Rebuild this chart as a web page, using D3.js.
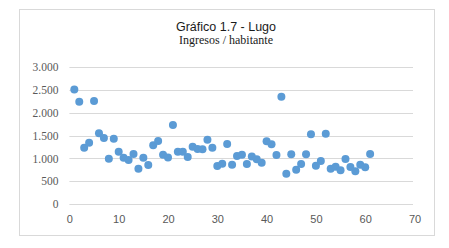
<!DOCTYPE html>
<html>
<head>
<meta charset="utf-8">
<script src="https://cdn.jsdelivr.net/npm/d3@7"></script>
<style>
	body { margin: 0; background: #fff; }
	.grid line { stroke: #d9d9d9; }
</style>
</head>
<body>
<script>
// Municipality index (x) and income per inhabitant (y)
const municipios = [
	1, 2, 3, 4, 5, 6, 7, 8, 9, 10, 11, 12, 13, 14, 15, 16, 17, 18, 19, 20,
	21, 22, 23, 24, 25, 26, 27, 28, 29, 30, 31, 32, 33, 34, 35, 36, 37, 38, 39, 40,
	41, 42, 43, 44, 45, 46, 47, 48, 49, 50, 51, 52, 53, 54, 55, 56, 57, 58, 59, 60, 61
];
const ingresos = [
	2515, 2245, 1235, 1345, 2260, 1555, 1447, 995, 1432, 1147, 1015, 965, 1096, 775, 1015, 855, 1290, 1382, 1082, 1023,
	1732, 1147, 1147, 1031, 1257, 1206, 1199, 1411, 1235, 833, 885, 1316, 863, 1053, 1082, 877, 1045, 980, 906, 1375,
	1309, 1075, 2353, 665, 1090, 752, 877, 1090, 1528, 840, 943, 1542, 775, 818, 738, 987, 811, 716, 863, 804, 1096
];
const yTicks = [0, 500, 1000, 1500, 2000, 2500, 3000];
const xTicks = [0, 10, 20, 30, 40, 50, 60, 70];

const width = 449;
const height = 248;

const svg = d3.select('body').append('svg').attr('width', width).attr('height', height);

// chart border
svg.append('rect')
	.attr('x', 19.5).attr('y', 9.5)
	.attr('width', 415).attr('height', 226)
	.attr('fill', '#fff')
	.attr('stroke', '#d9d9d9');

svg.append('text')
	.attr('x', 226).attr('y', 31)
	.attr('text-anchor', 'middle')
	.style('font-family', 'Liberation Sans, Arial, sans-serif')
	.style('font-size', '12.5px')
	.style('fill', '#1a1a1a')
	.text('Gráfico 1.7 - Lugo');

svg.append('text')
	.attr('x', 226).attr('y', 44)
	.attr('text-anchor', 'middle')
	.style('font-family', 'Liberation Serif, Times New Roman, serif')
	.style('font-size', '12px')
	.style('fill', '#1a1a1a')
	.text('Ingresos / habitante');

const x = d3.scaleLinear().domain([0, 70]).range([69.4, 414.5]);
const y = d3.scaleLinear().domain([0, 3000]).range([204, 67.3]);

// horizontal gridlines
svg.append('g')
	.attr('class', 'grid')
	.selectAll('line')
	.data(yTicks)
	.enter()
	.append('line')
	.attr('x1', x(0))
	.attr('x2', 413)
	.attr('y1', (d) => Math.round(y(d)) + 0.5)
	.attr('y2', (d) => Math.round(y(d)) + 0.5);

const fmt = (d) => d3.format(',')(d).replace(/,/g, '.');

const yAxis = svg.append('g')
	.attr('transform', `translate(${x(0) - 8},0)`)
	.call(d3.axisLeft(y).tickValues(yTicks).tickFormat(fmt).tickSize(0).tickPadding(3));
yAxis.select('.domain').remove();
yAxis.selectAll('text')
	.style('font-family', 'Liberation Serif, Times New Roman, serif')
	.style('font-size', '11.5px')
	.style('fill', '#595959');

const xAxis = svg.append('g')
	.attr('transform', `translate(0,${y(0) + 8})`)
	.call(d3.axisBottom(x).tickValues(xTicks).tickSize(0).tickPadding(3));
xAxis.select('.domain').remove();
xAxis.selectAll('text')
	.style('font-family', 'Liberation Sans, Arial, sans-serif')
	.style('font-size', '11px')
	.style('fill', '#595959');

// points
svg.append('g')
	.selectAll('circle')
	.data(municipios.map((m, i) => ({m: m, v: ingresos[i]})))
	.enter()
	.append('circle')
	.attr('cx', (d) => x(d.m))
	.attr('cy', (d) => y(d.v))
	.attr('r', 4)
	.attr('fill', '#5b9bd5');
</script>
</body>
</html>
